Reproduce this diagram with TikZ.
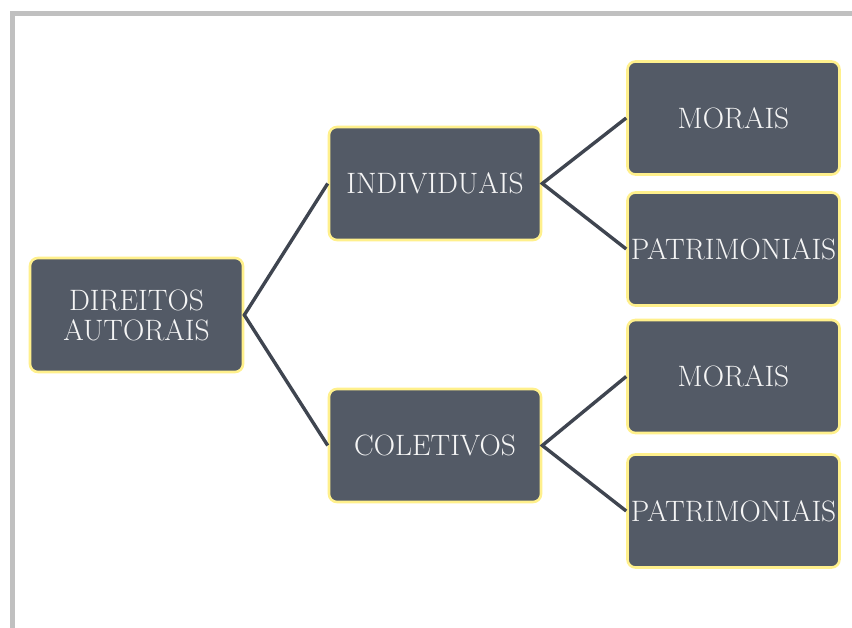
\documentclass[tikz,border=0pt]{standalone}
\usepackage{tikz}
\definecolor{boxfill}{HTML}{535A66}
\definecolor{boxedge}{HTML}{FFF08C}
\definecolor{linkcol}{HTML}{3F4550}
\definecolor{framecol}{HTML}{C0C0C0}
\tikzset{
  dbox/.style={draw=boxedge, line width=2.6pt, fill=boxfill, rounded corners=8pt,
    minimum width=212pt, minimum height=113pt, inner sep=0pt,
    text=white!96!black, align=center, font=\fontsize{29.5}{30}\selectfont},
  link/.style={draw=linkcol, line width=3.4pt}
}
\begin{document}
\begin{tikzpicture}[x=1pt,y=-1pt]
\useasboundingbox (0,0) rectangle (852,628);
\fill[white] (0,0) rectangle (852,628);
\fill[framecol] (10,11) rectangle (852,16);
\fill[framecol] (10,11) rectangle (15,628);
\node[dbox, minimum width=213pt, minimum height=114pt] (dir) at (136.5,315) {DIREITOS\\AUTORAIS};
\node[dbox] (ind) at (435,183.5) {INDIVIDUAIS};
\node[dbox] (col) at (435,445.5) {COLETIVOS};
\node[dbox] (m1) at (733.5,118) {MORAIS};
\node[dbox] (p1) at (733.5,249) {PATRIMONIAIS};
\node[dbox] (m2) at (733.5,376.5) {MORAIS};
\node[dbox] (p2) at (733.5,511) {PATRIMONIAIS};
\draw[link] (ind.west) -- (dir.east) -- (col.west);
\draw[link] (m1.west) -- (ind.east) -- (p1.west);
\draw[link] (m2.west) -- (col.east) -- (p2.west);
\end{tikzpicture}
\end{document}
